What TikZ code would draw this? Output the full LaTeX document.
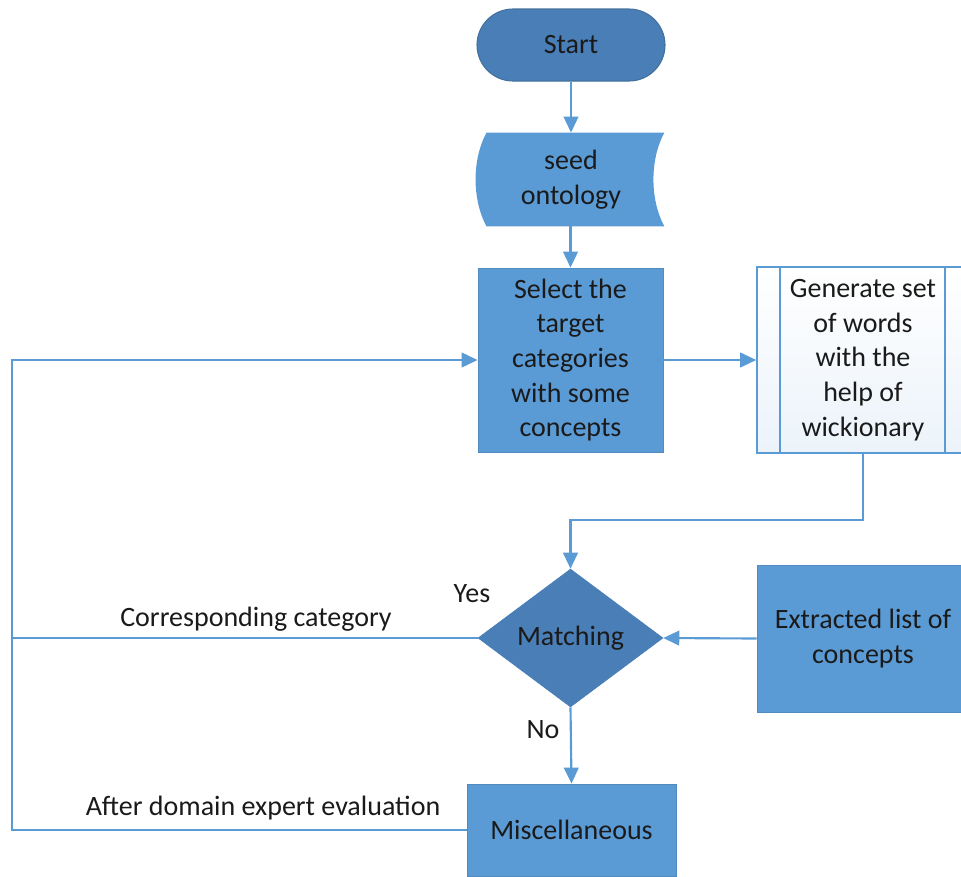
\documentclass[tikz,border=0pt]{standalone}
\usepackage{fontspec}
\setmainfont{Carlito}
\usetikzlibrary{arrows.meta,shapes.geometric,shapes.misc}

\definecolor{boxblue}{HTML}{5B9BD5}
\definecolor{deepblue}{HTML}{4A7EB6}
\definecolor{edgeblue}{HTML}{41719C}
\definecolor{linkblue}{HTML}{5B9BD5}
\definecolor{inkdark}{HTML}{1A1A1A}

\tikzset{
  every node/.style={font=\fontsize{21}{26}\selectfont, text=inkdark, align=center},
  flowbox/.style={rectangle, fill=boxblue, draw=boxblue!90!black, line width=0.6pt, inner sep=0pt},
  terminal/.style={rounded rectangle, fill=deepblue, draw=edgeblue, line width=0.8pt, inner sep=0pt},
  decision/.style={diamond, fill=deepblue, draw=deepblue, inner sep=0pt},
  subproc/.style={rectangle, top color=white, bottom color=boxblue!12, draw=boxblue, line width=1.2pt, inner sep=0pt},
  link/.style={draw=linkblue, line width=1.6pt},
  arrowlink/.style={link, -{Triangle[length=12pt,width=11pt]}},
  flowlabel/.style={font=\fontsize{21}{26}\selectfont}
}

\begin{document}
\begin{tikzpicture}[x=0.75pt,y=-0.75pt]
\useasboundingbox (0,0) rectangle (961,876);
\clip (0,0) rectangle (961,876);

% main column
\node[terminal, minimum width=141pt, minimum height=54pt] (start) at (571,45) {Start};

% stored-data shape: convex left side, concave right side
\node[minimum width=133pt, minimum height=70pt, inner sep=0pt] (seed) at (575.5,179.5) {};
\fill[boxblue] (seed.north west) .. controls ([xshift=-11pt,yshift=-20pt]seed.north west) and ([xshift=-11pt,yshift=20pt]seed.south west) .. (seed.south west)
  -- (seed.south east) .. controls ([xshift=-11pt,yshift=20pt]seed.south east) and ([xshift=-11pt,yshift=-20pt]seed.north east) .. (seed.north east) -- cycle;
\node (seedtext) at (571,180) {seed\\ontology};

\node[flowbox, minimum width=138.75pt, minimum height=138pt] (select) at (570.5,360)
  {Select the\\target\\categories\\with some\\concepts};

\node[subproc, minimum width=159pt, minimum height=139.5pt] (gen) at (863,360) {};
\draw[boxblue, line width=1.2pt] ([xshift=18pt]gen.north west) -- ([xshift=18pt]gen.south west);
\draw[boxblue, line width=1.2pt] ([xshift=-18.75pt]gen.north east) -- ([xshift=-18.75pt]gen.south east);
\node (gentext) at (gen) {Generate set\\of words\\with the\\help of\\wickionary};

\node[decision, minimum width=138.75pt, minimum height=103.5pt] (match) at (570.5,638) {Matching};

\node[flowbox, minimum width=159pt, minimum height=110.25pt] (ext) at (863,638.5) {Extracted list of\\concepts};

\node[flowbox, minimum width=156.75pt, minimum height=69pt] (misc) at (571.5,830) {Miscellaneous};

% turning points of the connectors
\coordinate (jn) at (570.5,520);
\coordinate (leftrail) at (12,0);

% connectors
\draw[arrowlink] (start.south) -- (seed.north -| start.south);
\draw[arrowlink] (seed.south -| select.north) -- (select.north);
\draw[arrowlink] (select.east) -- (gen.west);
\draw[arrowlink] (gen.south) |- (jn) -- (match.north);
\draw[arrowlink] (ext.west) -- (match.east);
\draw[arrowlink] (match.south) -- (misc.north);
\draw[arrowlink] (match.west) -- (match.west -| leftrail) |- (select.west);
\draw[link] (misc.west) -- (misc.west -| leftrail) -- (match.west -| leftrail);

% labels
\node[flowlabel] (lblcorr) at (256,619) {Corresponding category};
\node[flowlabel] (lblyes) at (472,594) {Yes};
\node[flowlabel] (lblno) at (543,730) {No};
\node[flowlabel] (lbleval) at (263,808) {After domain expert evaluation};
\end{tikzpicture}
\end{document}
